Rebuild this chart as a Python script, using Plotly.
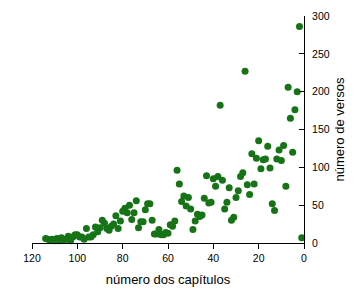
import plotly.graph_objects as go

chapters = list(range(1, 115))
verses = [7, 286, 200, 176, 120, 165, 206, 75, 129, 109, 123, 111, 43, 52, 99, 128, 111, 110, 98, 135,
          112, 78, 118, 64, 77, 227, 93, 88, 69, 60, 34, 30, 73, 54, 45, 83, 182, 88, 75, 85,
          54, 53, 89, 59, 37, 35, 38, 29, 18, 45, 60, 49, 62, 55, 78, 96, 29, 22, 24, 13,
          14, 11, 11, 18, 12, 12, 30, 52, 52, 44, 28, 28, 20, 56, 40, 31, 50, 40, 46, 42,
          29, 19, 36, 25, 22, 17, 19, 26, 30, 20, 15, 21, 11, 8, 8, 19, 5, 8, 8, 11,
          11, 8, 3, 9, 5, 4, 7, 3, 6, 3, 5, 4, 5, 6]

x_ticks = [120, 100, 80, 60, 40, 20, 0]
y_ticks = [0, 50, 100, 150, 200, 250, 300]

fig = go.Figure(go.Scatter(
    x=chapters, y=verses, mode="markers",
    marker=dict(color="#167316", size=7, line=dict(width=0)),
    cliponaxis=False,
))

font = dict(family="Liberation Sans, Arial, sans-serif", size=11, color="black")
tickfont = dict(family="Liberation Sans, Arial, sans-serif", size=10.5, color="black")
fig.update_layout(
    width=364, height=298,
    margin=dict(l=32, r=60, t=10, b=55),
    paper_bgcolor="white", plot_bgcolor="white",
    font=font, showlegend=False,
    xaxis=dict(range=[120, 0], tickvals=x_ticks, showgrid=False, zeroline=False,
               showline=True, linecolor="black", linewidth=1,
               ticks="outside", ticklen=5, tickcolor="black", tickfont=tickfont,
               title=dict(text="número dos capítulos", standoff=12), anchor="y"),
    yaxis=dict(range=[0, 300], tickvals=y_ticks, side="right", showgrid=False, zeroline=False,
               showline=True, linecolor="black", linewidth=1,
               ticks="inside", ticklen=5, tickcolor="black", tickfont=tickfont,
               ticklabelstandoff=5,
               title=dict(text="número de versos", standoff=6), anchor="x"),
)

fig.write_html("out.html")
